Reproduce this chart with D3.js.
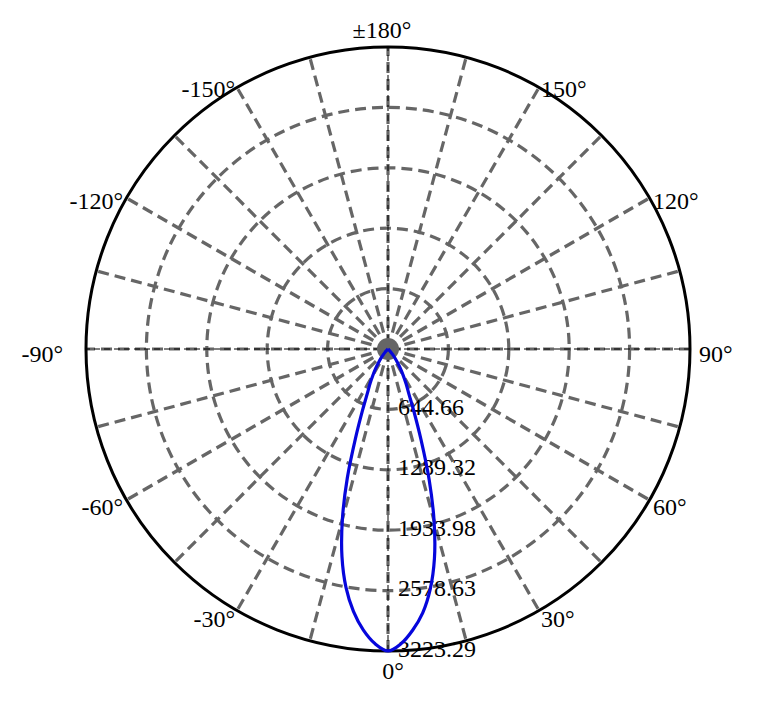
<!DOCTYPE html>
<html lang="en">

<head>
    <meta charset="UTF-8">
    <title>Polar Intensity</title>
    <script src="https://d3js.org/d3.v7.min.js"></script>
    <style>
        body { margin: 0; background: #fff; }
    </style>
</head>

<body>
    <svg class="chart"></svg>

    <script>
        const svgW = 775;
        const svgH = 703;
        const cx = 388, cy = 349; // centre of the polar plot
        const R = 302;            // outer radius
        const serif = "'Liberation Serif', 'DejaVu Serif', 'Times New Roman', serif";

        // ring tick values (cd)
        const ringTicks = [644.66, 1289.32, 1933.98, 2578.63, 3223.29];
        // angle labels every 30 degrees
        const angleTicks = [0, 30, 60, 90, 120, 150, 180, -150, -120, -90, -60, -30];
        const angleText = ["0°", "30°", "60°", "90°", "120°", "150°", "±180°", "-150°", "-120°", "-90°", "-60°", "-30°"];

        // measured curve (degrees, cd)
        const angles = [-180, -90, -60, -55, -52.5, -50, -47.5, -45, -42.5, -40, -37.5, -35, -32.5, -30, -27.5, -25, -22.5, -20,
            -17.5, -15, -12.5, -10, -7.5, -5, -2.5, 0, 2.5, 5, 7.5, 10, 12.5, 15, 17.5, 20, 22.5, 25, 27.5, 30, 32.5,
            35, 37.5, 40, 42.5, 45, 47.5, 50, 52.5, 55, 60, 90, 180];
        const intensity = [0, 0, 0, 0, 0, 5, 12, 25, 45, 75, 120, 175, 245, 320, 415, 520, 715, 1015,
            1445, 1881, 2270, 2583, 2825, 3013, 3150, 3223, 3150, 3013, 2840, 2600, 2290, 1900, 1460, 1030, 725,
            525, 418, 322, 246, 176, 121, 76, 46, 26, 12, 5, 0, 0, 0, 0, 0];

        const svg = d3.select(".chart")
            .attr("width", svgW)
            .attr("height", svgH)
            .attr("viewBox", `0 0 ${svgW} ${svgH}`);

        const g = svg.append("g").attr("transform", `translate(${cx},${cy})`);

        const r = d3.scaleLinear().domain([0, 3223.29]).range([0, R]);
        // 0° points down, positive angles go towards the right
        const a = d3.scaleLinear().domain([0, 360]).range([Math.PI, -Math.PI]);
        const px = (deg, rad) => rad * Math.sin(a(deg));
        const py = (deg, rad) => -rad * Math.cos(a(deg));

        const grey = "#666";
        const dash = "11,6";

        // dashed rings
        g.selectAll(".ring")
            .data(ringTicks.slice(0, -1))
            .join("circle")
            .attr("r", d => r(d))
            .attr("fill", "none")
            .attr("stroke", grey)
            .attr("stroke-width", 3.2)
            .attr("stroke-dasharray", dash);

        // spokes every 15°
        const spokes = d3.range(0, 360, 15).filter(d => d % 90 !== 0);
        g.selectAll(".spoke")
            .data(spokes)
            .join("line")
            .attr("x1", d => px(d, 17)).attr("y1", d => py(d, 17))
            .attr("x2", d => px(d, R)).attr("y2", d => py(d, R))
            .attr("stroke", grey)
            .attr("stroke-width", 3.2)
            .attr("stroke-dasharray", dash);

        // main axes: grey dashes with a thin black dash on top
        [0, 90].forEach(d => {
            g.append("line")
                .attr("x1", px(d, R)).attr("y1", py(d, R))
                .attr("x2", px(d + 180, R)).attr("y2", py(d + 180, R))
                .attr("stroke", grey).attr("stroke-width", 3.2)
                .attr("stroke-dasharray", dash);
            g.append("line")
                .attr("x1", px(d, R)).attr("y1", py(d, R))
                .attr("x2", px(d + 180, R)).attr("y2", py(d + 180, R))
                .attr("stroke", "#000").attr("stroke-width", 1)
                .attr("stroke-dasharray", "6,4");
        });

        // centre disc
        g.append("circle").attr("r", 11).attr("fill", grey);

        // ring labels along 0°
        g.selectAll(".ringlbl")
            .data(ringTicks)
            .join("text")
            .attr("font-family", serif)
            .attr("font-size", 24)
            .attr("x", 10)
            .attr("y", d => r(d))
            .attr("dominant-baseline", "middle")
            .text(d => d.toFixed(2));

        // angle labels: start/end anchored depending on side
        g.selectAll(".anglbl")
            .data(angleTicks)
            .join("text")
            .attr("font-family", serif)
            .attr("font-size", 24)
            .attr("x", d => {
                const x = px(d, R + 4);
                if (d === 0) return x + 5;
                if (Math.abs(d) === 180) return x - 6;
                return d > 0 ? x + (d === 90 ? 5 : 0) : x - (d === -90 ? 19 : 0);
            })
            .attr("y", d => {
                const y = py(d, R + 4);
                if (d === 0) return y + 7;
                if (Math.abs(d) === 180) return y - 5;
                return y + 7;
            })
            .attr("text-anchor", d => (d === 0 || Math.abs(d) === 180) ? "middle" : (d > 0 ? "start" : "end"))
            .attr("dominant-baseline", d => d === 0 ? "hanging" : (Math.abs(d) === 180 ? "auto" : "middle"))
            .text((d, i) => angleText[i]);

        // outer circle
        g.append("circle")
            .attr("r", R)
            .attr("fill", "none")
            .attr("stroke", "#000")
            .attr("stroke-width", 3);

        // intensity curve
        const pts = angles.map((d, i) => [d, intensity[i]]);
        const line = d3.lineRadial()
            .angle(d => a(d[0]))
            .radius(d => r(d[1]))
            .curve(d3.curveCatmullRom);

        g.append("path")
            .datum(pts)
            .attr("d", line)
            .attr("fill", "none")
            .attr("stroke", "#0606dc")
            .attr("stroke-width", 3.2);
    </script>
</body>

</html>
